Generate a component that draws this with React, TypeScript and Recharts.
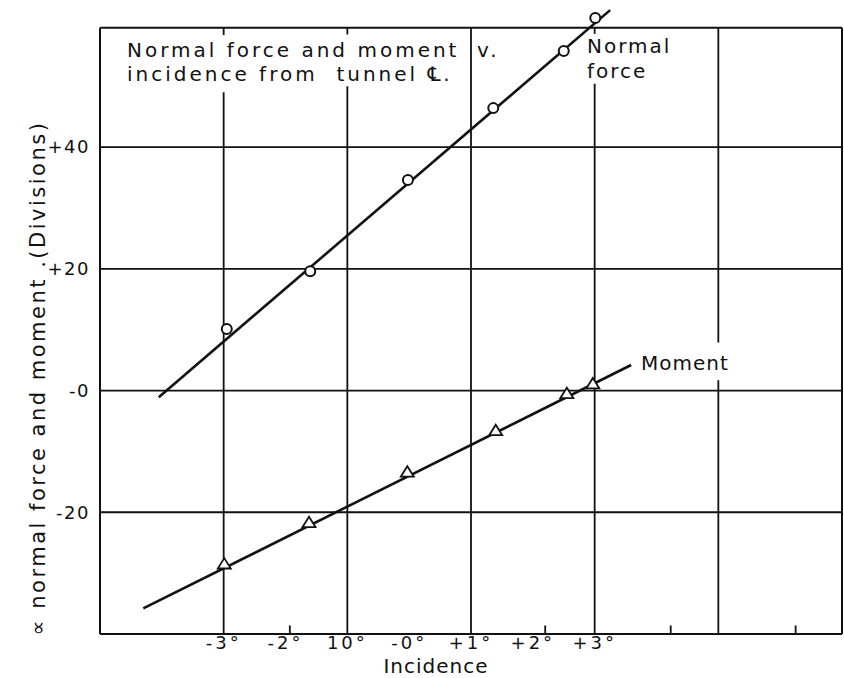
import {
  ComposedChart,
  Line,
  Scatter,
  XAxis,
  YAxis,
  ReferenceLine,
} from 'recharts';

// incidence (deg) and readings (divisions)
const forceIncidence = [-2.95, -1.6, -0.02, 1.36, 2.5, 3.01];
const normalForce = [10.1, 19.6, 34.6, 46.4, 55.8, 61.2];
const momentIncidence = [-2.99, -1.62, -0.03, 1.4, 2.55, 2.97];
const moment = [-28.6, -21.8, -13.5, -6.7, -0.6, 1.0];

// faired lines drawn through the points
const forceFitX = [-4.05, 3.25];
const forceFitY = [-1.1, 62.5];
const momentFitX = [-4.3, 3.59];
const momentFitY = [-35.8, 4.2];

const xTicks = [-3, -2, -1, 0, 1, 2, 3];
const xTickLabels = ['-3°', '-2°', '10°', '-0°', '+1°', '+2°', '+3°'];
const yTicks = [-20, 0, 20, 40];
const yTickLabels = ['-20', '-0', '+20', '+40'];
const minorTicks = [-1.93, 2.2, 4.23, 6.25];

const xGrid = [-3, -1, 1, 3, 5];

// sheet frame
const X_MIN = -5;
const X_MAX = 7;
const Y_MIN = -40;
const Y_TOP = 59.6;

// gaps left in the vertical rules for the lettering
const gridGaps: Record<number, [number, number][]> = {
  [-3]: [[49, 58.4]],
  [-1]: [[50, 58.5]],
  [3]: [[50.4, 58.6]],
  [5]: [[1.7, 7.9]],
};

const INK = '#111';
const FONT = '"DejaVu Sans", sans-serif';

const forceData = forceIncidence.map((x, i) => ({ x, y: normalForce[i] }));
const momentData = momentIncidence.map((x, i) => ({ x, y: moment[i] }));
const forceFit = forceFitX.map((x, i) => ({ x, y: forceFitY[i] }));
const momentFit = momentFitX.map((x, i) => ({ x, y: momentFitY[i] }));

function segmentsFor(x: number) {
  const gaps = gridGaps[x] || [];
  const out: [number, number][] = [];
  let start = Y_MIN;
  gaps.forEach(([a, b]) => {
    out.push([start, a]);
    start = b;
  });
  out.push([start, Y_TOP]);
  return out;
}

const Circle = (props: any) => (
  <circle cx={props.cx} cy={props.cy} r={5} fill="#fff" stroke={INK} strokeWidth={2} />
);

const Triangle = (props: any) => {
  const { cx, cy } = props;
  const s = 6.5;
  return (
    <polygon
      points={`${cx},${cy - s} ${cx - s},${cy + s * 0.6} ${cx + s},${cy + s * 0.6}`}
      fill="#fff"
      stroke={INK}
      strokeWidth={1.8}
    />
  );
};

const XTick = (props: any) => {
  const i = xTicks.indexOf(props.payload.value);
  return (
    <text x={props.x} y={props.y} dy="0.71em" textAnchor="middle" fontFamily={FONT} fontSize={18} fill={INK} letterSpacing={3}>
      {xTickLabels[i]}
    </text>
  );
};

const YTick = (props: any) => {
  const i = yTicks.indexOf(props.payload.value);
  return (
    <text x={props.x} y={props.y} dy="0.35em" textAnchor="end" fontFamily={FONT} fontSize={18} fill={INK} letterSpacing={1.5}>
      {yTickLabels[i]}
    </text>
  );
};

export default function App() {
  return (
    <div style={{ position: 'absolute', left: 0, top: 0, background: '#fff' }}>
      <ComposedChart width={844} height={678} margin={{ top: 1, right: 2, bottom: 0, left: 0 }}>
        <XAxis
          type="number"
          dataKey="x"
          domain={[X_MIN, X_MAX]}
          ticks={xTicks}
          tick={<XTick />}
          tickSize={0}
          tickMargin={2}
          axisLine={false}
          tickLine={false}
          height={44}
          allowDataOverflow
        />
        <YAxis
          type="number"
          dataKey="y"
          domain={[Y_MIN, 64]}
          ticks={yTicks}
          tick={<YTick />}
          tickSize={0}
          tickMargin={10}
          axisLine={false}
          tickLine={false}
          width={100}
          allowDataOverflow
        />

        {/* frame */}
        <ReferenceLine segment={[{ x: X_MIN, y: Y_MIN }, { x: X_MAX, y: Y_MIN }]} stroke={INK} strokeWidth={2} />
        <ReferenceLine segment={[{ x: X_MIN, y: Y_TOP }, { x: X_MAX, y: Y_TOP }]} stroke={INK} strokeWidth={2} />
        <ReferenceLine segment={[{ x: X_MIN, y: Y_MIN }, { x: X_MIN, y: Y_TOP }]} stroke={INK} strokeWidth={2} />
        <ReferenceLine segment={[{ x: X_MAX, y: Y_MIN }, { x: X_MAX, y: Y_TOP }]} stroke={INK} strokeWidth={2} />

        {/* ruled grid */}
        {yTicks.map((v) => (
          <ReferenceLine key={'h' + v} segment={[{ x: X_MIN, y: v }, { x: X_MAX, y: v }]} stroke={INK} strokeWidth={1.8} />
        ))}
        {xGrid.map((x) =>
          segmentsFor(x).map(([a, b], j) => (
            <ReferenceLine key={'v' + x + '-' + j} segment={[{ x, y: a }, { x, y: b }]} stroke={INK} strokeWidth={1.8} />
          ))
        )}
        {minorTicks.map((x) => (
          <ReferenceLine key={'m' + x} segment={[{ x, y: Y_MIN }, { x, y: Y_MIN + 1.4 }]} stroke={INK} strokeWidth={1.8} />
        ))}

        <Line data={forceFit} dataKey="y" stroke={INK} strokeWidth={2.6} dot={false} isAnimationActive={false} />
        <Line data={momentFit} dataKey="y" stroke={INK} strokeWidth={2.6} dot={false} isAnimationActive={false} />
        <Scatter data={forceData} dataKey="y" shape={<Circle />} isAnimationActive={false} />
        <Scatter data={momentData} dataKey="y" shape={<Triangle />} isAnimationActive={false} />

        <text fontFamily={FONT} fontSize={20} fill={INK} letterSpacing={3}>
          <tspan x={127} y={57}>Normal force and moment</tspan>
          <tspan x={477} y={57}>v.</tspan>
          <tspan x={127} y={81} xmlSpace="preserve">incidence from  tunnel ℄.</tspan>
        </text>
        <text fontFamily={FONT} fontSize={20} fill={INK} letterSpacing={2}>
          <tspan x={587} y={53}>Normal</tspan>
          <tspan x={587} y={78}>force</tspan>
        </text>
        <text x={641} y={370} fontFamily={FONT} fontSize={20} fill={INK} letterSpacing={1}>
          Moment
        </text>
        <text x={436} y={673} textAnchor="middle" fontFamily={FONT} fontSize={20} fill={INK} letterSpacing={1}>
          Incidence
        </text>
        <text
          x={38}
          y={378}
          transform="rotate(-90 38 378)"
          textAnchor="middle"
          dominantBaseline="central"
          fontFamily={FONT}
          fontSize={21}
          fill={INK}
          letterSpacing={2.5}
        >
          ∝ normal force and moment .(Divisions)
        </text>
      </ComposedChart>
    </div>
  );
}
